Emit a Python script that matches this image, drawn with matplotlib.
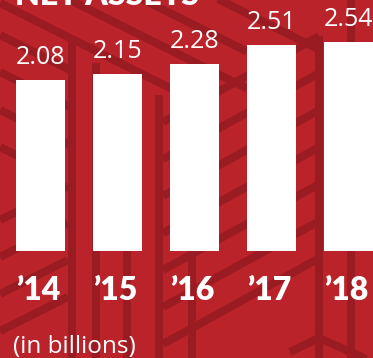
import matplotlib
matplotlib.use("Agg")
import matplotlib.pyplot as plt
from matplotlib import font_manager

years = ["\u201914", "\u201915", "\u201916", "\u201917", "\u201918"]
net_assets = [2.08, 2.15, 2.28, 2.51, 2.54]
title = "NET ASSETS"
unit_note = "(in billions)"

BG = "#BA2329"
STRIPE = "#9A1C22"

names = {f.name for f in font_manager.fontManager.ttflist}


def pick(cands):
    for c in cands:
        if c in names:
            return c
    return "DejaVu Sans"


light_font = pick(["Open Sans", "Lato", "Roboto"])
bold_font = pick(["Lato", "Roboto", "Open Sans"])

W, H = 373, 358
fig = plt.figure(figsize=(W / 100, H / 100), dpi=100)
fig.patch.set_facecolor(BG)

# background pattern, in pixel space (decoration only)
bg = fig.add_axes([0, 0, 1, 1])
bg.set_xlim(0, W)
bg.set_ylim(H, 0)
bg.axis("off")
lw = 8 * 0.72

verticals = [(72, 38, 358), (96, 63, 358), (127, 251, 358),
             (159, 95, 358), (192, 250, 358), (319, 36, 358),
             (351, -5, 45), (351, 251, 358)]
for x, y0, y1 in verticals:
    bg.plot([x, x], [y0, y1], color=STRIPE, lw=lw, solid_capstyle="butt")

# top faces: stripes running down to the right
top_faces = [(0, 3, 175), (0, 35, 72), (0, 72, 72), (0, 110, 72),
             (0, 147, 40), (64, -35, 247), (135, -72, 247), (205, -110, 319)]
for x0, b, x1 in top_faces:
    bg.plot([x0, x1], [b + 0.5 * x0, b + 0.5 * x1], color=STRIPE, lw=lw,
            solid_capstyle="butt")

# front faces: stripes running up to the right
for c in [122, 159, 196, 233, 270, 307, 344]:
    bg.plot([163, 319], [c, c - 0.55 * (319 - 163)], color=STRIPE, lw=lw,
            solid_capstyle="butt")
for d in [220, 257, 294, 331]:
    bg.plot([0, 68], [d, d - 0.5 * 68], color=STRIPE, lw=lw,
            solid_capstyle="butt")
bg.plot([290, 319, 373], [352, 338, 362], color=STRIPE, lw=lw,
        solid_capstyle="butt")

# chart
px = 82.2  # pixels per billion
ax = fig.add_axes([0, 0, 1, 1])
ax.patch.set_alpha(0)
ax.set_xlim(-40.5 / 77, (W - 40.5) / 77)
ax.set_ylim((251 - H) / px, 251 / px)
ax.axis("off")

x = range(len(years))
ax.bar(x, net_assets, width=49 / 77, color="white", zorder=3)

for i, v in zip(x, net_assets):
    ax.text(i, v + 16 / px, f"{v:.2f}", ha="center", va="baseline",
            color="white", fontsize=18, family=light_font, fontweight="normal")
    ax.text(i - 0.03, -49 / px, years[i], ha="center", va="baseline",
            color="white", fontsize=23, family=bold_font, fontweight="heavy")

fig.text(13 / W, (H - 353) / H, unit_note, ha="left", va="baseline",
         color="white", fontsize=17.5, family=light_font, fontweight="normal")
fig.text(15 / W, (H - 5) / H, title, ha="left", va="baseline",
         color="white", fontsize=23, family=bold_font, fontweight="heavy")

fig.savefig("out.png", dpi=100, facecolor=BG)
